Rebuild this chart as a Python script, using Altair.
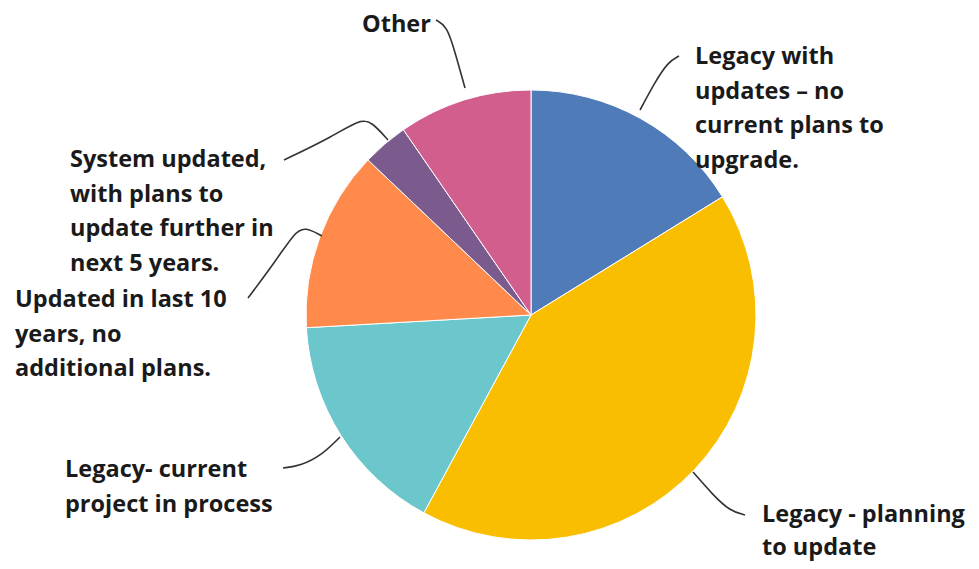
import altair as alt
import pandas as pd

# ---- data ----
categories = [
    "Legacy with updates – no current plans to upgrade.",
    "Legacy - planning to update",
    "Legacy- current project in process",
    "Updated in last 10 years, no additional plans.",
    "System updated, with plans to update further in next 5 years.",
    "Other",
]
values = [16.2, 41.7, 16.2, 13.0, 3.3, 9.6]
colors = ["#4F7CB8", "#F9BE00", "#6CC7CC", "#FF8A4C", "#7B5A8E", "#D25E8E"]

label_lines = [
    ["Legacy with", "updates – no", "current plans to", "upgrade."],
    ["Legacy - planning", "to update"],
    ["Legacy- current", "project in process"],
    ["Updated in last 10", "years, no", "additional plans."],
    ["System updated,", "with plans to", "update further in", "next 5 years."],
    ["Other"],
]

# ---- layout (chart pixel coordinates) ----
W, H = 963, 553
CX, CY, R = 523, 307, 225
LINE_H = 34.5
label_anchor = [  # x of text start, y of first line centre
    (687, 49),
    (754, 507),
    (57, 462),
    (7, 292),
    (62, 152),
    (354, 17),
]
line_h = [LINE_H, 33, LINE_H, LINE_H, LINE_H, LINE_H]
leaders = [
    [(671, 48), (660, 54), (647, 74), (632, 102)],
    [(685, 464), (705, 487), (722, 503), (737, 507)],
    [(275, 460), (292, 458), (314, 447), (332, 429)],
    [(240, 290), (267, 254), (287, 224), (297, 219), (314, 228)],
    [(276, 152), (322, 130), (352, 111), (364, 114), (380, 132)],
    [(428, 12), (439, 18), (447, 44), (457, 80)],
]

pie_df = pd.DataFrame({"cat": categories, "val": values, "idx": list(range(len(categories)))})

text_rows = []
for i, lines in enumerate(label_lines):
    x0, y0 = label_anchor[i]
    for j, t in enumerate(lines):
        text_rows.append({"t": t, "px": x0, "py": y0 + j * line_h[i]})
text_df = pd.DataFrame(text_rows)

line_rows = []
for i, pts in enumerate(leaders):
    for k, (x, y) in enumerate(pts):
        line_rows.append({"g": i, "k": k, "px": x, "py": y})
line_df = pd.DataFrame(line_rows)

xs = alt.Scale(domain=[0, W], nice=False, zero=False)
ys = alt.Scale(domain=[H, 0], nice=False, zero=False)

pie = alt.Chart(pie_df).mark_arc(
    radius=R, stroke="#ffffff", strokeWidth=1
).encode(
    theta=alt.Theta("val:Q", stack=True),
    color=alt.Color("cat:N", scale=alt.Scale(domain=categories, range=colors), legend=None),
    order=alt.Order("idx:Q"),
    x=alt.value(CX),
    y=alt.value(CY),
)

texts = alt.Chart(text_df).mark_text(
    align="left", baseline="middle", font="Open Sans", fontSize=23.5,
    fontWeight="bold", color="#1a1a1a"
).encode(
    x=alt.X("px:Q", scale=xs, axis=None),
    y=alt.Y("py:Q", scale=ys, axis=None),
    text="t:N",
)

leader = alt.Chart(line_df).mark_line(
    color="#333333", strokeWidth=1.6, interpolate="basis"
).encode(
    x=alt.X("px:Q", scale=xs, axis=None),
    y=alt.Y("py:Q", scale=ys, axis=None),
    detail="g:N",
    order="k:Q",
)

chart = alt.layer(pie, leader, texts).properties(
    width=W, height=H, padding=0
).configure_view(stroke=None)

chart.save("out.html", embed_options={"renderer": "svg", "actions": False})
